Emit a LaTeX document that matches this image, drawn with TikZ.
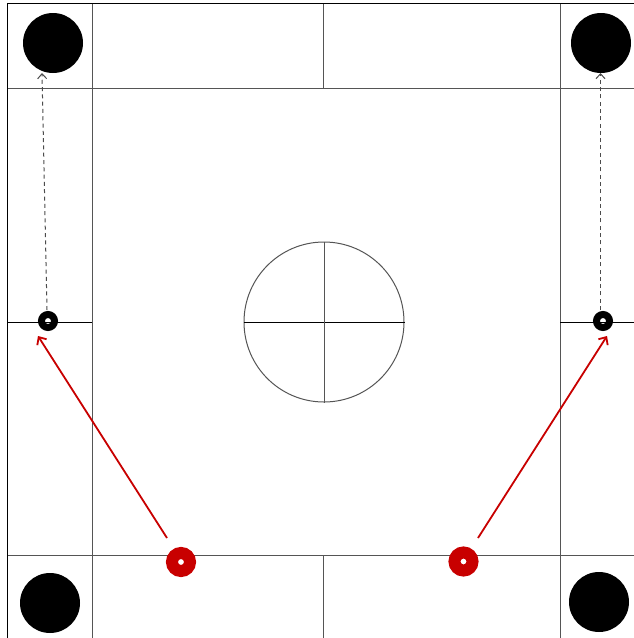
\documentclass[tikz,border=0pt]{standalone}
\usetikzlibrary{arrows.meta}
\definecolor{gridgray}{RGB}{85,85,85}
\definecolor{redring}{RGB}{200,0,0}
\tikzset{
  grid/.style={draw=gridgray, line width=1pt},
  border/.style={draw=black, line width=1pt},
  bigdot/.style={circle, fill=black, minimum size=60pt, inner sep=0pt},
  smallring/.style={circle, draw=black, line width=7pt, minimum size=13pt, inner sep=0pt},
  redringst/.style={circle, draw=redring, line width=12pt, minimum size=18pt, inner sep=0pt},
  redarrow/.style={draw=redring, line width=1.8pt, -{Straight Barb[length=6pt,width=11pt]}},
  dasharrow/.style={draw=black!70, line width=1pt, dash pattern=on 4pt off 3.3pt, -{Straight Barb[length=5pt,width=9pt]}}
}
\begin{document}
\begin{tikzpicture}[x=1pt,y=-1pt]
\useasboundingbox (0,0) rectangle (634,638);
\fill[white] (0,0) rectangle (634,638);
% grid
\draw[grid] (92,3) -- (92,638);
\draw[grid] (560,3) -- (560,638);
\draw[grid] (323,3) -- (323,88);
\draw[grid] (323,555) -- (323,638);
\draw[grid] (7,88) -- (634,88);
\draw[grid] (7,555) -- (634,555);
\draw[border] (7,638) -- (7,3) -- (634,3);
\draw[border] (7,322) -- (92,322);
\draw[border] (560,322) -- (634,322);
% centre circle
\node[circle, draw=gridgray, line width=1pt, minimum size=160pt, inner sep=0pt] (cc) at (324,322) {};
\draw[black, line width=1pt] (cc.west) -- (cc.east);
\draw[gridgray, line width=1pt] (cc.north) -- (cc.south);
% big dots
\node[bigdot] (tl) at (53,43) {};
\node[bigdot] (tr) at (601,43) {};
\node[bigdot] (bl) at (50,603) {};
\node[bigdot] (br) at (599,602) {};
% small rings
\node[smallring] (sl) at (48,321) {};
\node[smallring] (sr) at (603,321) {};
% red rings
\node[redringst] (rl) at (181,562) {};
\node[redringst] (rr) at (463.5,561.5) {};
% coordinates for arrow ends
\coordinate (tlend) at (42,73);
\coordinate (slstart) at (47,310);
\coordinate (trend) at (600.5,73);
\coordinate (srstart) at (600.5,310);
\coordinate (rlstart) at (167,538);
\coordinate (rlend) at (38,336);
\coordinate (rrstart) at (478,538);
\coordinate (rrend) at (607,336);
% arrows
\draw[dasharrow] (slstart) -- (tlend);
\draw[dasharrow] (srstart) -- (trend);
\draw[redarrow] (rlstart) -- (rlend);
\draw[redarrow] (rrstart) -- (rrend);
\end{tikzpicture}
\end{document}
